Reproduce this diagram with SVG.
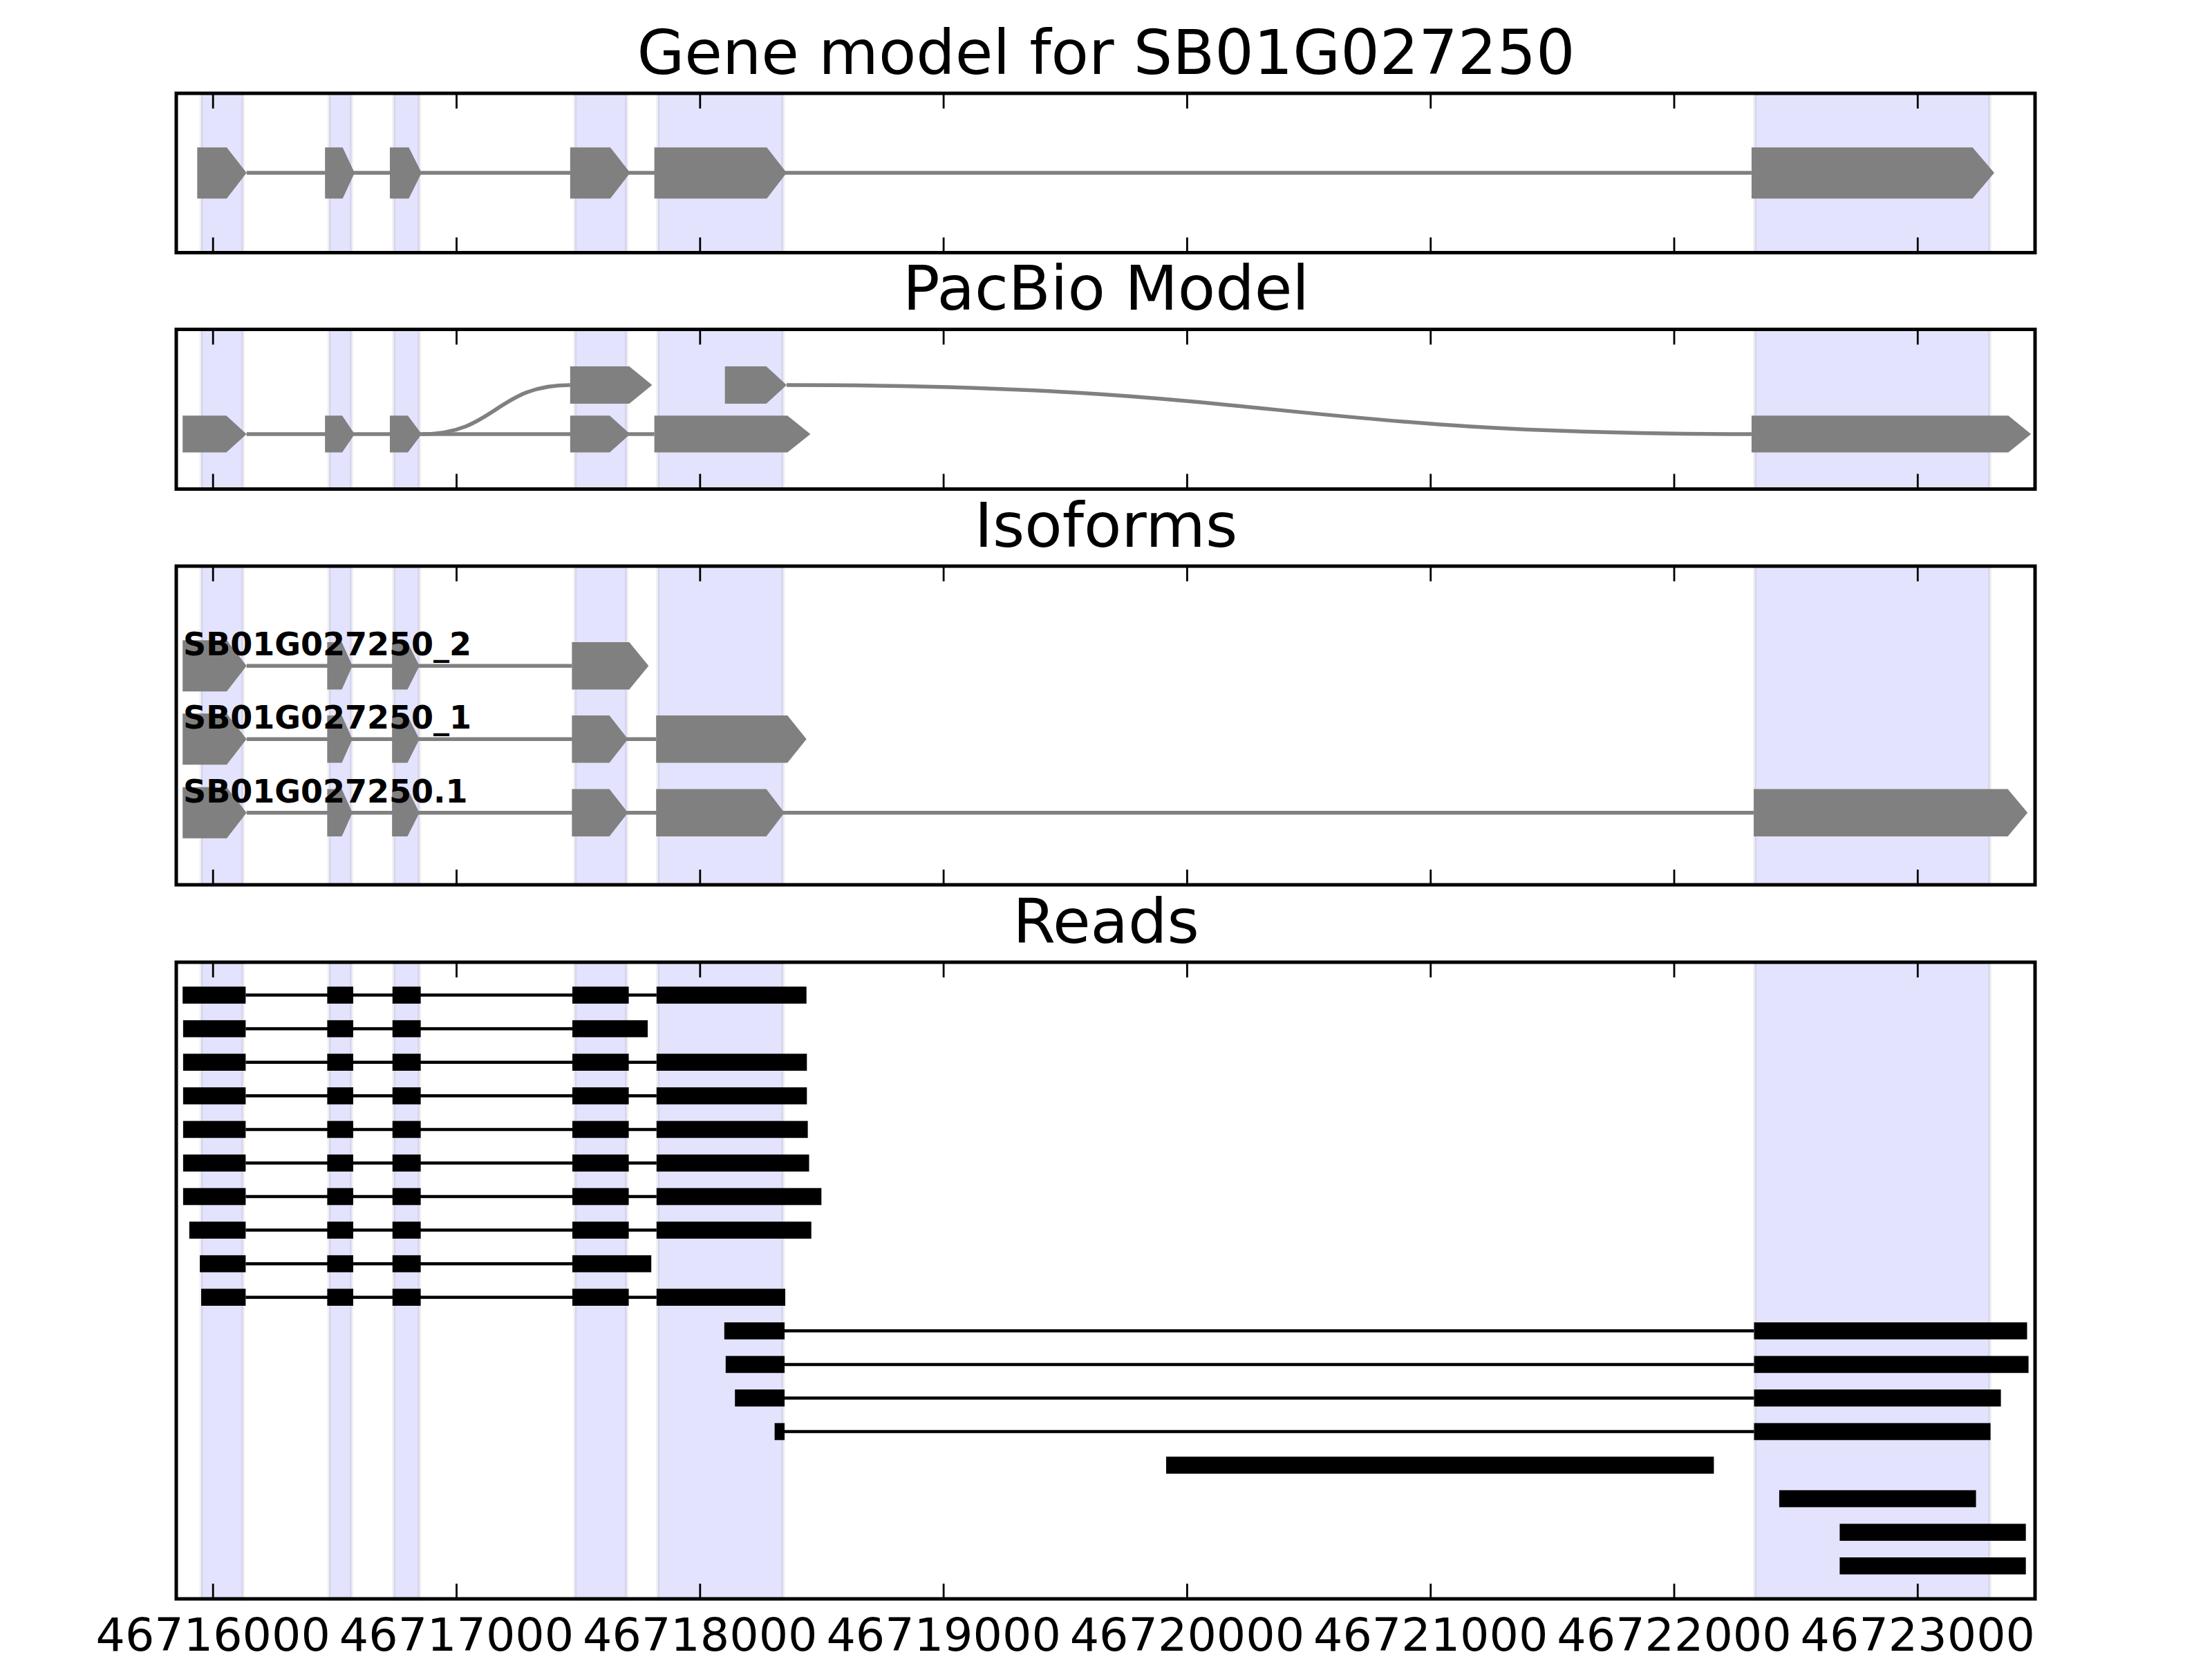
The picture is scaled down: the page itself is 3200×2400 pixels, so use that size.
<svg xmlns="http://www.w3.org/2000/svg" width="3200" height="2400" viewBox="0 0 3200 2400">
<style>
.bg{fill:#fff}
.frame{fill:none;stroke:#000;stroke-width:5}
.span{fill:#e3e3fd;stroke:rgba(0,0,0,0.06);stroke-width:5}
.exon{fill:#808080}
.intron{stroke:#808080;stroke-width:5.5;fill:none}
.read{fill:#000}
.rline{stroke:#000;stroke-width:4.5}
.tick{stroke:#000;stroke-width:2.8}
.title{font-family:'DejaVu Sans',sans-serif;font-size:88.9px;text-anchor:middle;fill:#000}
.tl{font-family:'DejaVu Sans',sans-serif;font-size:66.7px;text-anchor:middle;fill:#000}
.lbl{font-family:'DejaVu Sans',sans-serif;font-weight:bold;font-size:46px;fill:#000}
</style>
<defs>
<g id="ticks">
<line x1="308.2" y1="0" x2="308.2" y2="22"/>
<line x1="660.5" y1="0" x2="660.5" y2="22"/>
<line x1="1012.8" y1="0" x2="1012.8" y2="22"/>
<line x1="1365.1" y1="0" x2="1365.1" y2="22"/>
<line x1="1717.4" y1="0" x2="1717.4" y2="22"/>
<line x1="2069.7" y1="0" x2="2069.7" y2="22"/>
<line x1="2422" y1="0" x2="2422" y2="22"/>
<line x1="2774.3" y1="0" x2="2774.3" y2="22"/>
</g>
</defs>
<rect class="bg" x="0" y="0" width="3200" height="2400"/>

<!-- Shaded exon spans -->
<g id="spans-p1" class="span">
<rect x="291" y="135" width="60.6" height="230.5"/>
<rect x="476" y="135" width="32.5" height="230.5"/>
<rect x="569.7" y="135" width="37" height="230.5"/>
<rect x="831.8" y="135" width="74.7" height="230.5"/>
<rect x="951.7" y="135" width="181.2" height="230.5"/>
<rect x="2538.6" y="135" width="340" height="230.5"/>
</g>
<g id="spans-p2" class="span">
<rect x="291" y="476.5" width="60.6" height="231"/>
<rect x="476" y="476.5" width="32.5" height="231"/>
<rect x="569.7" y="476.5" width="37" height="231"/>
<rect x="831.8" y="476.5" width="74.7" height="231"/>
<rect x="951.7" y="476.5" width="181.2" height="231"/>
<rect x="2538.6" y="476.5" width="340" height="231"/>
</g>
<g id="spans-p3" class="span">
<rect x="291" y="819" width="60.6" height="461"/>
<rect x="476" y="819" width="32.5" height="461"/>
<rect x="569.7" y="819" width="37" height="461"/>
<rect x="831.8" y="819" width="74.7" height="461"/>
<rect x="951.7" y="819" width="181.2" height="461"/>
<rect x="2538.6" y="819" width="340" height="461"/>
</g>
<g id="spans-p4" class="span">
<rect x="291" y="1392" width="60.6" height="921"/>
<rect x="476" y="1392" width="32.5" height="921"/>
<rect x="569.7" y="1392" width="37" height="921"/>
<rect x="831.8" y="1392" width="74.7" height="921"/>
<rect x="951.7" y="1392" width="181.2" height="921"/>
<rect x="2538.6" y="1392" width="340" height="921"/>
</g>

<!-- Connectors -->
<g id="connectors">
<g class="intron">
<line x1="356.7" y1="250" x2="2533.9" y2="250"/>
<line x1="356.7" y1="628" x2="946.6" y2="628"/>
<path d="M610,628 C717,628 717,557 824.8,557"/>
<path d="M1138,557 C1846,557 1846,628 2533.9,628"/>
<line x1="356.7" y1="963.3" x2="827.4" y2="963.3"/>
<line x1="356.7" y1="1069.3" x2="949.2" y2="1069.3"/>
<line x1="356.7" y1="1175.7" x2="2537.1" y2="1175.7"/>
</g>
<g class="rline">
<line x1="355.4" y1="1439.6" x2="949.8" y2="1439.6"/>
<line x1="355.4" y1="1488.2" x2="828" y2="1488.2"/>
<line x1="355.4" y1="1536.7" x2="949.8" y2="1536.7"/>
<line x1="355.4" y1="1585.3" x2="949.8" y2="1585.3"/>
<line x1="355.4" y1="1633.9" x2="949.8" y2="1633.9"/>
<line x1="355.4" y1="1682.5" x2="949.8" y2="1682.5"/>
<line x1="355.4" y1="1731" x2="949.8" y2="1731"/>
<line x1="355.4" y1="1779.6" x2="949.8" y2="1779.6"/>
<line x1="355.4" y1="1828.2" x2="828" y2="1828.2"/>
<line x1="355.4" y1="1876.7" x2="949.8" y2="1876.7"/>
<line x1="1135" y1="1925.3" x2="2537.5" y2="1925.3"/>
<line x1="1135" y1="1973.9" x2="2537.5" y2="1973.9"/>
<line x1="1135" y1="2022.4" x2="2537.5" y2="2022.4"/>
<line x1="1135" y1="2071" x2="2537.5" y2="2071"/>
</g>
</g>

<!-- Panel 1: gene model -->
<g id="gene-model" class="exon">
<polygon points="285.3,213.3 328,213.3 356.7,250 328,287.3 285.3,287.3"/>
<polygon points="470.2,213.3 495.7,213.3 513,250 495.7,287.3 470.2,287.3"/>
<polygon points="564,213.3 591.4,213.3 609.9,250 591.4,287.3 564,287.3"/>
<polygon points="824.8,213.3 882.9,213.3 911.6,250 882.9,287.3 824.8,287.3"/>
<polygon points="946.6,213.3 1109.3,213.3 1138,250 1109.3,287.3 946.6,287.3"/>
<polygon points="2533.9,213.3 2853.6,213.3 2885,250 2853.6,287.3 2533.9,287.3"/>
</g>

<!-- Panel 2: PacBio model -->
<g id="pacbio-model" class="exon">
<polygon points="264.2,601.3 327.4,601.3 356.7,628 327.4,654.5 264.2,654.5"/>
<polygon points="470.2,601.3 495,601.3 513,628 495,654.5 470.2,654.5"/>
<polygon points="564,601.3 590,601.3 610,628 590,654.5 564,654.5"/>
<polygon points="824.8,601.3 882,601.3 911.6,628 882,654.5 824.8,654.5"/>
<polygon points="946.6,601.3 1139.2,601.3 1172.4,628 1139.2,654.5 946.6,654.5"/>
<polygon points="2533.9,601.3 2905.4,601.3 2938.2,628 2905.4,654.5 2533.9,654.5"/>
<polygon points="824.8,530 910.3,530 943.4,557 910.3,584 824.8,584"/>
<polygon points="1048.7,530 1108.6,530 1138,557 1108.6,584 1048.7,584"/>
</g>

<!-- Panel 3: isoforms -->
<g id="isoform-2" class="exon">
<polygon points="264.2,926.3 328,926.3 356.7,963.3 328,1000.3 264.2,1000.3"/>
<polygon points="473.4,929 494.5,929 509.8,963.3 494.5,997.6 473.4,997.6"/>
<polygon points="567.2,929 589.5,929 606.7,963.3 589.5,997.6 567.2,997.6"/>
<polygon points="827.4,929 910.3,929 938.3,963.3 910.3,997.6 827.4,997.6"/>
</g>
<g id="isoform-1" class="exon">
<polygon points="264.2,1032.3 328,1032.3 356.7,1069.3 328,1106.3 264.2,1106.3"/>
<polygon points="473.4,1035 494.5,1035 509.8,1069.3 494.5,1103.6 473.4,1103.6"/>
<polygon points="567.2,1035 589.5,1035 606.7,1069.3 589.5,1103.6 567.2,1103.6"/>
<polygon points="827.4,1035 881.6,1035 908.4,1069.3 881.6,1103.6 827.4,1103.6"/>
<polygon points="949.2,1035 1139.2,1035 1166.7,1069.3 1139.2,1103.6 949.2,1103.6"/>
</g>
<g id="isoform-ref" class="exon">
<polygon points="264.2,1138.7 328,1138.7 356.7,1175.7 328,1212.7 264.2,1212.7"/>
<polygon points="473.4,1141.4 494.5,1141.4 509.8,1175.7 494.5,1210 473.4,1210"/>
<polygon points="567.2,1141.4 589.5,1141.4 606.7,1175.7 589.5,1210 567.2,1210"/>
<polygon points="827.4,1141.4 881.6,1141.4 908.4,1175.7 881.6,1210 827.4,1210"/>
<polygon points="949.2,1141.4 1108.6,1141.4 1134.8,1175.7 1108.6,1210 949.2,1210"/>
<polygon points="2537.1,1141.4 2904.6,1141.4 2933.2,1175.7 2904.6,1210 2537.1,1210"/>
</g>
<g id="isoform-labels" class="lbl">
<text x="265" y="948.3">SB01G027250_2</text>
<text x="265" y="1054">SB01G027250_1</text>
<text x="265" y="1160.7">SB01G027250.1</text>
</g>

<!-- Panel 4: reads -->
<g id="reads" class="read">
<g id="read-1"><rect x="264.2" y="1427.3" width="91.2" height="24.6"/><rect x="473.4" y="1427.3" width="37.6" height="24.6"/><rect x="567.8" y="1427.3" width="40.8" height="24.6"/><rect x="828" y="1427.3" width="81.6" height="24.6"/><rect x="949.8" y="1427.3" width="216.9" height="24.6"/></g>
<g id="read-2"><rect x="264.9" y="1475.9" width="90.5" height="24.6"/><rect x="473.4" y="1475.9" width="37.6" height="24.6"/><rect x="567.8" y="1475.9" width="40.8" height="24.6"/><rect x="828" y="1475.9" width="109" height="24.6"/></g>
<g id="read-3"><rect x="264.9" y="1524.4" width="90.5" height="24.6"/><rect x="473.4" y="1524.4" width="37.6" height="24.6"/><rect x="567.8" y="1524.4" width="40.8" height="24.6"/><rect x="828" y="1524.4" width="81.6" height="24.6"/><rect x="949.8" y="1524.4" width="217.5" height="24.6"/></g>
<g id="read-4"><rect x="264.9" y="1573" width="90.5" height="24.6"/><rect x="473.4" y="1573" width="37.6" height="24.6"/><rect x="567.8" y="1573" width="40.8" height="24.6"/><rect x="828" y="1573" width="81.6" height="24.6"/><rect x="949.8" y="1573" width="217.5" height="24.6"/></g>
<g id="read-5"><rect x="264.9" y="1621.6" width="90.5" height="24.6"/><rect x="473.4" y="1621.6" width="37.6" height="24.6"/><rect x="567.8" y="1621.6" width="40.8" height="24.6"/><rect x="828" y="1621.6" width="81.6" height="24.6"/><rect x="949.8" y="1621.6" width="218.8" height="24.6"/></g>
<g id="read-6"><rect x="264.9" y="1670.2" width="90.5" height="24.6"/><rect x="473.4" y="1670.2" width="37.6" height="24.6"/><rect x="567.8" y="1670.2" width="40.8" height="24.6"/><rect x="828" y="1670.2" width="81.6" height="24.6"/><rect x="949.8" y="1670.2" width="220.7" height="24.6"/></g>
<g id="read-7"><rect x="264.9" y="1718.7" width="90.5" height="24.6"/><rect x="473.4" y="1718.7" width="37.6" height="24.6"/><rect x="567.8" y="1718.7" width="40.8" height="24.6"/><rect x="828" y="1718.7" width="81.6" height="24.6"/><rect x="949.8" y="1718.7" width="238.5" height="24.6"/></g>
<g id="read-8"><rect x="273.8" y="1767.3" width="81.6" height="24.6"/><rect x="473.4" y="1767.3" width="37.6" height="24.6"/><rect x="567.8" y="1767.3" width="40.8" height="24.6"/><rect x="828" y="1767.3" width="81.6" height="24.6"/><rect x="949.8" y="1767.3" width="223.9" height="24.6"/></g>
<g id="read-9"><rect x="289.1" y="1815.9" width="66.3" height="24.6"/><rect x="473.4" y="1815.9" width="37.6" height="24.6"/><rect x="567.8" y="1815.9" width="40.8" height="24.6"/><rect x="828" y="1815.9" width="114.2" height="24.6"/></g>
<g id="read-10"><rect x="291" y="1864.4" width="64.4" height="24.6"/><rect x="473.4" y="1864.4" width="37.6" height="24.6"/><rect x="567.8" y="1864.4" width="40.8" height="24.6"/><rect x="828" y="1864.4" width="81.6" height="24.6"/><rect x="949.8" y="1864.4" width="186.2" height="24.6"/></g>
<g id="read-11"><rect x="1047.8" y="1913" width="87.2" height="24.6"/><rect x="2537.5" y="1913" width="395" height="24.6"/></g>
<g id="read-12"><rect x="1049.8" y="1961.6" width="85.2" height="24.6"/><rect x="2537.5" y="1961.6" width="397.1" height="24.6"/></g>
<g id="read-13"><rect x="1063.2" y="2010.1" width="71.8" height="24.6"/><rect x="2537.5" y="2010.1" width="357.1" height="24.6"/></g>
<g id="read-14"><rect x="1120.6" y="2058.7" width="14.4" height="24.6"/><rect x="2537.5" y="2058.7" width="342.1" height="24.6"/></g>
<g id="read-15"><rect x="1687" y="2107.3" width="792.4" height="24.6"/></g>
<g id="read-16"><rect x="2573.9" y="2155.8" width="284.7" height="24.6"/></g>
<g id="read-17"><rect x="2661.4" y="2204.4" width="269.3" height="24.6"/></g>
<g id="read-18"><rect x="2661.4" y="2253" width="269.3" height="24.6"/></g>
</g>

<!-- Ticks -->
<g id="axis-ticks" class="tick">
<use href="#ticks" transform="translate(0,135)"/>
<use href="#ticks" transform="translate(0,365.5) scale(1,-1)"/>
<use href="#ticks" transform="translate(0,476.5)"/>
<use href="#ticks" transform="translate(0,707.5) scale(1,-1)"/>
<use href="#ticks" transform="translate(0,819)"/>
<use href="#ticks" transform="translate(0,1280) scale(1,-1)"/>
<use href="#ticks" transform="translate(0,1392)"/>
<use href="#ticks" transform="translate(0,2313) scale(1,-1)"/>
</g>

<!-- Frames -->
<g id="frames" class="frame">
<rect x="255" y="135" width="2689" height="230.5"/>
<rect x="255" y="476.5" width="2689" height="231"/>
<rect x="255" y="819" width="2689" height="461"/>
<rect x="255" y="1392" width="2689" height="921"/>
</g>

<!-- Titles -->
<g id="titles" class="title">
<text x="1600" y="107">Gene model for SB01G027250</text>
<text x="1600" y="448">PacBio Model</text>
<text x="1600" y="791">Isoforms</text>
<text x="1600" y="1364">Reads</text>
</g>

<!-- Tick labels -->
<g id="tick-labels" class="tl">
<text x="308.2" y="2388">46716000</text>
<text x="660.5" y="2388">46717000</text>
<text x="1012.8" y="2388">46718000</text>
<text x="1365.1" y="2388">46719000</text>
<text x="1717.4" y="2388">46720000</text>
<text x="2069.7" y="2388">46721000</text>
<text x="2422" y="2388">46722000</text>
<text x="2774.3" y="2388">46723000</text>
</g>
</svg>
